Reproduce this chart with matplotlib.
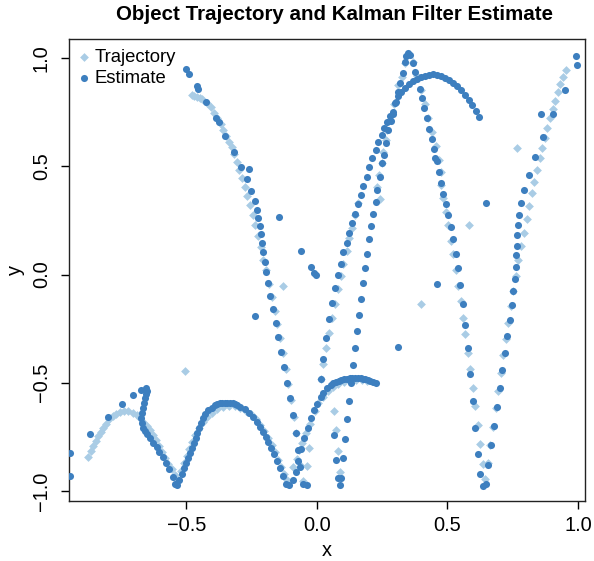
import matplotlib
matplotlib.use("Agg")
import matplotlib.pyplot as plt
import numpy as np

# ---- true trajectory (light diamonds), one list of (x, y) per visible stretch ----
traj_arc1 = [(-0.877, -0.843), (-0.866, -0.815), (-0.858, -0.792), (-0.847, -0.769), (-0.839, -0.745),
             (-0.828, -0.727), (-0.820, -0.708), (-0.808, -0.690), (-0.797, -0.667), (-0.782, -0.653),
             (-0.770, -0.644), (-0.755, -0.634), (-0.739, -0.630), (-0.724, -0.630), (-0.705, -0.639),
             (-0.690, -0.648), (-0.678, -0.662), (-0.667, -0.681), (-0.651, -0.699), (-0.640, -0.718),
             (-0.628, -0.741), (-0.617, -0.764), (-0.605, -0.792), (-0.594, -0.819), (-0.582, -0.847),
             (-0.571, -0.875), (-0.556, -0.898), (-0.544, -0.926), (-0.533, -0.949)]
traj_arc2 = [(-0.521, -0.907), (-0.510, -0.870), (-0.498, -0.838), (-0.490, -0.806), (-0.479, -0.773),
             (-0.467, -0.741), (-0.452, -0.708), (-0.437, -0.681), (-0.421, -0.657), (-0.402, -0.639),
             (-0.383, -0.620), (-0.360, -0.611), (-0.337, -0.606), (-0.314, -0.606), (-0.295, -0.616),
             (-0.272, -0.630), (-0.253, -0.644), (-0.234, -0.667), (-0.218, -0.694), (-0.203, -0.722),
             (-0.188, -0.755), (-0.172, -0.787), (-0.161, -0.819), (-0.149, -0.856), (-0.138, -0.889),
             (-0.126, -0.921), (-0.115, -0.949)]
traj_arc3 = [(-0.092, -0.889), (-0.077, -0.852), (-0.057, -0.778), (-0.042, -0.731), (-0.027, -0.690),
             (-0.008, -0.630), (0.004, -0.593), (0.023, -0.565), (0.042, -0.537), (0.061, -0.519),
             (0.080, -0.505), (0.103, -0.495), (0.126, -0.486), (0.149, -0.486), (0.172, -0.486),
             (0.192, -0.491)]
traj_stub = [(0.065, -0.630), (0.073, -0.718), (0.080, -0.815), (0.088, -0.912)]
traj_fall = [(-0.479, 0.829), (-0.470, 0.824), (-0.460, 0.819), (-0.450, 0.815), (-0.441, 0.810),
             (-0.421, 0.792), (-0.406, 0.773), (-0.395, 0.745), (-0.383, 0.722), (-0.368, 0.694),
             (-0.360, 0.667), (-0.349, 0.639), (-0.337, 0.611), (-0.326, 0.588), (-0.318, 0.556),
             (-0.307, 0.519), (-0.299, 0.481), (-0.287, 0.444), (-0.276, 0.403), (-0.268, 0.361),
             (-0.257, 0.319), (-0.245, 0.273), (-0.238, 0.227), (-0.226, 0.176), (-0.215, 0.125),
             (-0.207, 0.069), (-0.195, 0.019), (-0.184, -0.042), (-0.172, -0.102), (-0.161, -0.167),
             (-0.153, -0.227), (-0.142, -0.292), (-0.130, -0.361), (-0.119, -0.435), (-0.111, -0.505),
             (-0.100, -0.579), (-0.088, -0.657), (-0.080, -0.731), (-0.069, -0.810), (-0.061, -0.884),
             (-0.054, -0.954), (-0.038, -0.884), (-0.031, -0.801)]
traj_l1 = [(0.015, -0.481), (0.023, -0.412), (0.034, -0.338), (0.046, -0.269), (0.057, -0.199),
           (0.069, -0.134), (0.080, -0.069), (0.092, -0.009), (0.100, 0.051), (0.115, 0.111),
           (0.123, 0.167), (0.134, 0.213), (0.146, 0.273), (0.157, 0.329)]
traj_l2_up = [(0.241, 0.347), (0.230, 0.403), (0.238, 0.458), (0.249, 0.514), (0.253, 0.565),
              (0.264, 0.620), (0.268, 0.667), (0.280, 0.713), (0.295, 0.787), (0.310, 0.875),
              (0.326, 0.912), (0.337, 0.977), (0.345, 1.014)]
traj_l2_down = [(0.368, 0.981), (0.383, 0.917), (0.398, 0.852), (0.414, 0.787), (0.425, 0.722),
                (0.441, 0.657), (0.456, 0.593), (0.467, 0.528), (0.475, 0.472), (0.475, 0.412),
                (0.483, 0.352), (0.494, 0.287), (0.502, 0.231), (0.513, 0.157), (0.521, 0.093),
                (0.533, 0.023), (0.540, -0.051), (0.552, -0.120), (0.559, -0.199), (0.567, -0.273),
                (0.579, -0.361), (0.586, -0.435), (0.598, -0.523), (0.605, -0.606), (0.617, -0.694),
                (0.625, -0.782), (0.636, -0.875), (0.644, -0.944)]
traj_right = [(0.655, -0.870), (0.663, -0.787), (0.674, -0.704), (0.686, -0.616), (0.693, -0.537),
              (0.705, -0.454), (0.713, -0.370), (0.724, -0.296), (0.732, -0.222), (0.743, -0.144),
              (0.751, -0.074), (0.762, -0.005), (0.770, 0.065), (0.782, 0.130), (0.793, 0.194),
              (0.805, 0.255), (0.812, 0.315), (0.824, 0.375), (0.831, 0.426), (0.843, 0.481),
              (0.854, 0.537), (0.862, 0.583), (0.874, 0.630), (0.881, 0.676), (0.893, 0.722),
              (0.904, 0.764), (0.912, 0.801), (0.923, 0.843), (0.931, 0.880), (0.943, 0.912),
              (0.954, 0.944)]
traj_stray = [(-0.130, -0.051), (-0.506, -0.444), (0.398, -0.134), (0.582, 0.227), (0.766, 0.583)]

# ---- filter estimate (dark dots) ----
est_left = [(-0.946, -0.824), (-0.946, -0.931), (-0.870, -0.736), (-0.801, -0.657), (-0.747, -0.597),
            (-0.705, -0.556), (-0.674, -0.532), (-0.655, -0.523), (-0.651, -0.537), (-0.655, -0.551),
            (-0.659, -0.569), (-0.663, -0.593), (-0.667, -0.616), (-0.670, -0.639), (-0.674, -0.662),
            (-0.670, -0.685), (-0.667, -0.708), (-0.659, -0.722), (-0.651, -0.736), (-0.640, -0.755),
            (-0.628, -0.778), (-0.613, -0.796), (-0.605, -0.819), (-0.590, -0.843), (-0.579, -0.870),
            (-0.567, -0.898), (-0.552, -0.935), (-0.544, -0.968), (-0.536, -0.972)]
est_arc2 = [(-0.529, -0.949), (-0.517, -0.921), (-0.510, -0.894), (-0.502, -0.870), (-0.494, -0.847),
            (-0.487, -0.824), (-0.479, -0.801), (-0.471, -0.778), (-0.464, -0.755), (-0.460, -0.731),
            (-0.452, -0.708), (-0.444, -0.685), (-0.437, -0.662), (-0.429, -0.644), (-0.418, -0.625),
            (-0.402, -0.616), (-0.391, -0.602), (-0.383, -0.597), (-0.372, -0.593), (-0.362, -0.593),
            (-0.352, -0.593), (-0.343, -0.593), (-0.333, -0.593), (-0.323, -0.595), (-0.314, -0.597),
            (-0.305, -0.604), (-0.295, -0.611), (-0.276, -0.620), (-0.261, -0.639), (-0.245, -0.657),
            (-0.230, -0.681), (-0.218, -0.704), (-0.207, -0.727), (-0.195, -0.750), (-0.188, -0.773),
            (-0.176, -0.801), (-0.165, -0.829), (-0.153, -0.861), (-0.142, -0.894), (-0.130, -0.931),
            (-0.119, -0.968), (-0.107, -0.972)]
est_arc3 = [(-0.092, -0.949), (-0.080, -0.912), (-0.073, -0.861), (-0.061, -0.806), (-0.050, -0.755),
            (-0.034, -0.708), (-0.023, -0.662), (-0.011, -0.625), (0.000, -0.597), (0.015, -0.565),
            (0.023, -0.546), (0.038, -0.523), (0.054, -0.509), (0.063, -0.502), (0.073, -0.495),
            (0.083, -0.490), (0.092, -0.486), (0.104, -0.482), (0.115, -0.481), (0.125, -0.478),
            (0.134, -0.477), (0.146, -0.477), (0.157, -0.477), (0.167, -0.479), (0.176, -0.481),
            (0.186, -0.483), (0.195, -0.486), (0.205, -0.490), (0.215, -0.495), (0.226, -0.500)]
est_fall = [(-0.502, 0.949), (-0.490, 0.926), (-0.460, 0.870), (-0.456, 0.856), (-0.425, 0.796),
            (-0.387, 0.722), (-0.375, 0.704), (-0.352, 0.639), (-0.318, 0.565), (-0.291, 0.495),
            (-0.268, 0.440), (-0.253, 0.384), (-0.238, 0.338), (-0.230, 0.296), (-0.226, 0.259),
            (-0.218, 0.222), (-0.215, 0.185), (-0.211, 0.148), (-0.207, 0.106), (-0.199, 0.060),
            (-0.195, 0.014), (-0.188, -0.037), (-0.180, -0.097), (-0.169, -0.157), (-0.157, -0.222),
            (-0.149, -0.287), (-0.138, -0.356), (-0.126, -0.426), (-0.115, -0.500), (-0.103, -0.569),
            (-0.092, -0.648), (-0.080, -0.731), (-0.073, -0.810), (-0.065, -0.889), (-0.054, -0.968),
            (-0.038, -0.972)]
est_stray = [(-0.261, 0.486), (-0.146, 0.264), (-0.061, 0.111), (-0.023, 0.037), (-0.011, 0.009),
             (-0.004, 0.000), (-0.238, -0.190), (0.310, -0.333), (0.460, -0.042), (0.648, 0.329)]
est_l1 = [(0.015, -0.481), (0.023, -0.389), (0.034, -0.292), (0.046, -0.204), (0.057, -0.130),
          (0.069, -0.060), (0.080, 0.000), (0.092, 0.051), (0.100, 0.102), (0.115, 0.148),
          (0.123, 0.194), (0.134, 0.236), (0.146, 0.278), (0.157, 0.324), (0.169, 0.366),
          (0.176, 0.407), (0.192, 0.449), (0.199, 0.495), (0.211, 0.537), (0.226, 0.574),
          (0.234, 0.611), (0.249, 0.644), (0.257, 0.676), (0.268, 0.704), (0.280, 0.731),
          (0.291, 0.750), (0.299, 0.792), (0.310, 0.824), (0.322, 0.843), (0.337, 0.861),
          (0.352, 0.880), (0.368, 0.894), (0.383, 0.903), (0.398, 0.912), (0.414, 0.917),
          (0.429, 0.921), (0.444, 0.926), (0.460, 0.921), (0.475, 0.917), (0.490, 0.907),
          (0.506, 0.898), (0.521, 0.884), (0.536, 0.870), (0.552, 0.852), (0.567, 0.829),
          (0.582, 0.806), (0.594, 0.782), (0.609, 0.755), (0.621, 0.727)]
est_l2 = [(0.065, -0.741), (0.073, -0.856), (0.080, -0.940), (0.088, -0.972), (0.092, -0.940),
          (0.100, -0.847), (0.107, -0.759), (0.115, -0.667), (0.123, -0.583), (0.130, -0.500),
          (0.138, -0.417), (0.146, -0.338), (0.153, -0.259), (0.161, -0.185), (0.169, -0.111),
          (0.176, -0.037), (0.184, 0.032), (0.192, 0.097), (0.199, 0.162), (0.207, 0.222),
          (0.215, 0.278), (0.226, 0.333), (0.230, 0.389), (0.241, 0.449), (0.249, 0.514),
          (0.257, 0.551), (0.264, 0.606), (0.272, 0.667), (0.284, 0.708), (0.291, 0.741),
          (0.303, 0.796), (0.310, 0.843), (0.318, 0.884), (0.330, 0.931), (0.337, 0.981),
          (0.341, 1.009), (0.349, 1.023), (0.356, 1.014)]
est_down = [(0.368, 0.977), (0.375, 0.935), (0.395, 0.856), (0.402, 0.815), (0.410, 0.769),
            (0.421, 0.722), (0.429, 0.671), (0.441, 0.625), (0.448, 0.579), (0.452, 0.537),
            (0.460, 0.523), (0.467, 0.472), (0.475, 0.421), (0.483, 0.370), (0.494, 0.324),
            (0.502, 0.273), (0.513, 0.218), (0.521, 0.162), (0.533, 0.097), (0.540, 0.032),
            (0.548, -0.046), (0.559, -0.134), (0.567, -0.231), (0.579, -0.338), (0.586, -0.458),
            (0.598, -0.583), (0.605, -0.708), (0.617, -0.829), (0.625, -0.921), (0.636, -0.977),
            (0.648, -0.968)]
est_right = [(0.655, -0.880), (0.667, -0.787), (0.678, -0.699), (0.690, -0.611), (0.701, -0.523),
             (0.709, -0.440), (0.720, -0.361), (0.728, -0.282), (0.739, -0.208), (0.747, -0.139),
             (0.751, -0.074), (0.759, -0.019), (0.762, 0.037), (0.762, 0.088), (0.766, 0.134),
             (0.766, 0.181), (0.770, 0.227), (0.774, 0.273), (0.782, 0.329), (0.793, 0.389),
             (0.812, 0.458), (0.835, 0.542), (0.866, 0.634), (0.858, 0.741), (0.904, 0.741),
             (0.950, 0.852), (0.992, 1.009), (0.996, 0.968)]

x_ticks = [-0.5, 0.0, 0.5, 1.0]
x_ticklabels = ["\u22120.5", "0.0", "0.5", "1.0"]
y_ticks = [-1.0, -0.5, 0.0, 0.5, 1.0]
y_ticklabels = ["\u22121.0", "\u22120.5", "0.0", "0.5", "1.0"]


def unzip(*segments):
    pts = np.array([p for seg in segments for p in seg])
    return pts[:, 0], pts[:, 1]


traj_x, traj_y = unzip(traj_arc1, traj_arc2, traj_arc3, traj_stub, traj_fall, traj_l1,
                       traj_l2_up, traj_l2_down, traj_right, traj_stray)
est_x, est_y = unzip(est_left, est_arc2, est_arc3, est_fall, est_stray, est_l1,
                     est_l2, est_down, est_right)

plt.rcParams['font.family'] = ['Liberation Sans', 'DejaVu Sans']

light = "#A9CCE5"
dark = "#3D7FBF"

W, H = 594, 561
fig = plt.figure(figsize=(W / 100, H / 100), dpi=100)
ax = fig.add_axes([69 / W, 1 - 501 / H, (585 - 69) / W, (501 - 39) / H])

ax.scatter(traj_x, traj_y, marker='D', s=20, color=light, linewidths=0, label='Trajectory', zorder=2)
ax.scatter(est_x, est_y, marker='o', s=26, color=dark, linewidths=0, label='Estimate', zorder=3)

ax.set_xlim(-0.95, 1.027)
ax.set_ylim(-1.046, 1.088)
ax.set_xticks(x_ticks)
ax.set_xticklabels(x_ticklabels, fontsize=14.4)
ax.set_yticks(y_ticks)
ax.set_yticklabels(y_ticklabels, fontsize=14.4, rotation=90, va='center')
ax.tick_params(direction='out', length=6, width=1, pad=5)
ax.tick_params(axis='y', pad=7)
for sp in ax.spines.values():
    sp.set_linewidth(1.0)
    sp.set_color('#222222')

fig.text(0.5 * (69 + 585) / W, 1 - 550 / H, 'x', ha='center', va='center', fontsize=14.4)
fig.text(15 / W, 1 - 270 / H, 'y', ha='center', va='center', fontsize=14.4, rotation=90)
fig.text(335 / W, 1 - 15 / H, 'Object Trajectory and Kalman Filter Estimate',
         ha='center', va='center', fontsize=14.8, fontweight='bold')

ax.legend(loc='upper left', frameon=False, fontsize=13.3, scatterpoints=1,
          handletextpad=0.35, borderaxespad=0.4, borderpad=0.15, labelspacing=0.2,
          handlelength=0.5, markerscale=1.0)

fig.savefig('out.png', dpi=100)
